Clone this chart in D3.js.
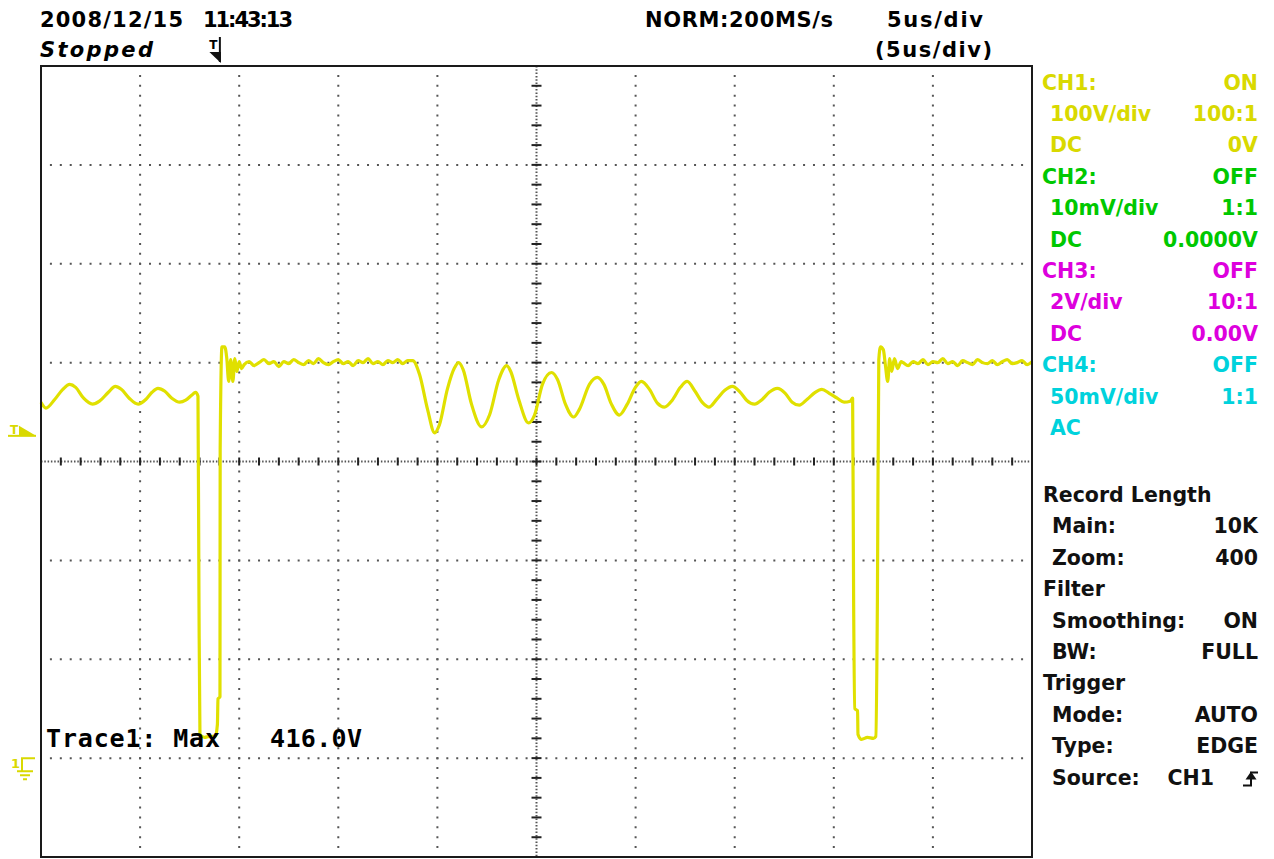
<!DOCTYPE html>
<html>
<head>
<meta charset="utf-8">
<script src="https://cdn.jsdelivr.net/npm/d3@7"></script>
<style>
  body { margin: 0; background: #fff; }
  svg { display: block; }
  text { font-family: 'DejaVu Sans', sans-serif; font-weight: bold; }
</style>
</head>
<body>
<div id="scope"></div>
<script>
// header / status
const dateStamp = '2008/12/15';
const timeStamp = '11:43:13';
const runState = 'Stopped';
const acqMode = 'NORM:200MS/s';
const timeBase = '5us/div';
const zoomBase = '(5us/div)';

// screen setup: 10 div x 5us, 8 div x 100V (ground 3 div under centre)
const timeDomain = [0, 50];
const voltDomain = [-100, 700];
const triggerTime = 9.05;
const triggerLevel = 330;
const traceLabel = 'Trace1: Max';
const traceMax = '416.0V';

// CH1 trace, [us, V]
const rippleBefore = [
  [0, 360], [0.25, 354], [0.7, 363], [1.1, 373], [1.45, 378], [1.75, 375],
  [2.15, 364], [2.6, 358], [2.95, 361], [3.4, 370], [3.75, 376], [4.05, 373],
  [4.45, 364], [4.9, 358], [5.3, 363], [5.6, 370], [5.9, 374], [6.25, 371],
  [6.6, 364], [7.0, 360], [7.3, 362], [7.6, 367], [7.8, 370], [7.92, 366]
];
const firstPulse = [
  [7.97, 160], [8.02, 24], [8.25, 21], [8.5, 22], [8.8, 22], [8.9, 34],
  [8.93, 60], [9.03, 62], [9.04, 312], [9.13, 416], [9.27, 416], [9.37, 405],
  [9.47, 381], [9.57, 403], [9.68, 381], [9.78, 404], [9.88, 391], [10.0, 401],
  [10.12, 394]
];
const flatHighA = [
  [10.25, 398], [10.5, 401], [10.75, 397], [11.0, 400], [11.25, 403], [11.5, 399],
  [11.75, 401], [12.0, 396], [12.25, 401], [12.5, 399], [12.75, 403], [13.0, 400],
  [13.25, 398], [13.5, 402], [13.75, 399], [14.0, 404], [14.25, 400], [14.5, 398],
  [14.75, 401], [15.0, 403], [15.25, 399], [15.5, 401], [15.75, 397], [16.0, 402],
  [16.25, 400], [16.5, 404], [16.75, 399], [17.0, 401], [17.25, 398], [17.5, 402],
  [17.75, 400], [18.0, 403], [18.25, 399], [18.5, 402]
];
const ringDown = [
  [18.75, 402], [19.1, 388], [19.5, 353], [19.86, 329], [20.1, 337], [20.5, 373],
  [20.87, 395], [21.07, 400], [21.3, 393], [21.72, 358], [22.23, 335], [22.63, 347],
  [23.1, 383], [23.5, 397], [23.7, 391], [24.1, 363], [24.6, 339], [24.9, 347],
  [25.3, 378], [25.76, 390], [26.06, 383], [26.46, 358], [26.87, 345], [27.17, 353],
  [27.67, 378], [28.07, 385], [28.4, 378], [28.78, 358], [29.18, 347], [29.58, 358],
  [29.99, 375], [30.29, 381], [30.7, 373], [31.1, 359], [31.45, 355], [31.85, 362],
  [32.26, 375], [32.6, 381], [33.0, 371], [33.4, 359], [33.7, 355], [34.1, 363],
  [34.5, 372], [34.88, 376], [35.28, 370], [35.6, 362], [36.0, 358], [36.4, 363],
  [36.74, 370], [37.15, 374], [37.55, 369], [37.9, 360], [38.26, 357], [38.66, 363],
  [39.06, 370], [39.4, 373], [39.77, 369], [40.17, 364], [40.52, 360], [40.83, 361],
  [40.95, 364]
];
const secondPulse = [
  [41.0, 160], [41.06, 50], [41.2, 48], [41.22, 24], [41.4, 19], [41.7, 21],
  [42.0, 20], [42.12, 22], [42.2, 160], [42.27, 403], [42.36, 416], [42.5, 413],
  [42.6, 398], [42.72, 381], [42.82, 404], [42.92, 391], [43.06, 404], [43.22, 394],
  [43.4, 401]
];
const flatHighB = [
  [43.5, 400], [43.75, 397], [44.0, 401], [44.25, 399], [44.5, 403], [44.75, 398],
  [45.0, 401], [45.25, 400], [45.5, 404], [45.75, 399], [46.0, 401], [46.25, 397],
  [46.5, 402], [46.75, 400], [47.0, 398], [47.25, 403], [47.5, 400], [47.75, 399],
  [48.0, 402], [48.25, 398], [48.5, 401], [48.75, 403], [49.0, 399], [49.25, 400],
  [49.5, 402], [49.75, 398], [50.0, 401]
];

// right side panel
const channelNames = ['CH1:', 'CH2:', 'CH3:', 'CH4:'];
const channelState = ['ON', 'OFF', 'OFF', 'OFF'];
const channelScale = ['100V/div', '10mV/div', '2V/div', '50mV/div'];
const channelProbe = ['100:1', '1:1', '10:1', '1:1'];
const channelCoupling = ['DC', 'DC', 'DC', 'AC'];
const channelOffset = ['0V', '0.0000V', '0.00V', ''];
const settingLabels = ['Record Length', 'Main:', 'Zoom:', 'Filter', 'Smoothing:', 'BW:', 'Trigger', 'Mode:', 'Type:', 'Source:'];
const settingValues = [null, '10K', '400', null, 'ON', 'FULL', null, 'AUTO', 'EDGE', 'CH1'];

const chColors = ['#d9d900', '#00c800', '#dd00dd', '#00d2dc'];
const traceColor = '#e0e000';
const dotColor = '#555';

const W = 1274, H = 859;
const frame = { left: 41, top: 66, right: 1032, bottom: 857 };

const svg = d3.select('#scope').append('svg')
  .attr('width', W).attr('height', H);

const x = d3.scaleLinear().domain(timeDomain).range([frame.left, frame.right]);
const y = d3.scaleLinear().domain(voltDomain).range([frame.bottom, frame.top]);

const divX = (x(5) - x(0));
const divY = (y(0) - y(100));

// graticule
const grid = svg.append('g');
grid.selectAll('.vgrid')
  .data(d3.range(5, 50, 5).filter(t => t !== 25))
  .join('line')
  .attr('x1', d => x(d)).attr('x2', d => x(d))
  .attr('y1', frame.top).attr('y2', frame.bottom)
  .attr('stroke', dotColor).attr('stroke-width', 2)
  .attr('stroke-dasharray', `2,${divY / 10 - 2}`)
  .attr('stroke-dashoffset', 1);
grid.selectAll('.hgrid')
  .data(d3.range(0, 700, 100).filter(v => v !== 300))
  .join('line')
  .attr('x1', frame.left).attr('x2', frame.right)
  .attr('y1', d => y(d)).attr('y2', d => y(d))
  .attr('stroke', dotColor).attr('stroke-width', 2)
  .attr('stroke-dasharray', `2,${divX / 10 - 2}`)
  .attr('stroke-dashoffset', 1);

// centre axes, dense dots + minor ticks every 0.2 div
grid.append('line')
  .attr('x1', x(25)).attr('x2', x(25))
  .attr('y1', frame.top).attr('y2', frame.bottom)
  .attr('stroke', dotColor).attr('stroke-width', 2)
  .attr('stroke-dasharray', '1.5,1.8');
grid.append('line')
  .attr('x1', frame.left).attr('x2', frame.right)
  .attr('y1', y(300)).attr('y2', y(300))
  .attr('stroke', dotColor).attr('stroke-width', 2)
  .attr('stroke-dasharray', '1.5,1.8');
grid.selectAll('.vtick')
  .data(d3.range(-80, 700, 20))
  .join('line')
  .attr('x1', x(25) - 5).attr('x2', x(25) + 5)
  .attr('y1', d => y(d)).attr('y2', d => y(d))
  .attr('stroke', '#222').attr('stroke-width', 2);
grid.selectAll('.htick')
  .data(d3.range(1, 50, 1))
  .join('line')
  .attr('x1', d => x(d)).attr('x2', d => x(d))
  .attr('y1', y(300) - 4).attr('y2', y(300) + 4)
  .attr('stroke', '#222').attr('stroke-width', 2);

// CH1 trace
const trace = [].concat(rippleBefore, firstPulse, flatHighA, ringDown, secondPulse, flatHighB);
const line = d3.line().curve(d3.curveMonotoneX).x(d => x(d[0])).y(d => y(d[1]));
svg.append('path')
  .datum(trace)
  .attr('d', line)
  .attr('fill', 'none')
  .attr('stroke', traceColor)
  .attr('stroke-width', 3.2)
  .attr('stroke-linejoin', 'round');

// frame
svg.append('rect')
  .attr('x', frame.left).attr('y', frame.top)
  .attr('width', frame.right - frame.left)
  .attr('height', frame.bottom - frame.top)
  .attr('fill', 'none').attr('stroke', '#1a1a1a').attr('stroke-width', 2);

// header
svg.append('text').attr('x', 40).attr('y', 27).attr('font-size', 21)
  .attr('textLength', 143).attr('lengthAdjust', 'spacing').text(dateStamp);
svg.append('text').attr('x', 203).attr('y', 27).attr('font-size', 21)
  .attr('textLength', 90).attr('lengthAdjust', 'spacing').text(timeStamp);
svg.append('text').attr('x', 40).attr('y', 57).attr('font-size', 21)
  .style('font-style', 'italic')
  .attr('textLength', 113).attr('lengthAdjust', 'spacing').text(runState);
svg.append('text').attr('x', 645).attr('y', 27).attr('font-size', 21)
  .attr('textLength', 188).attr('lengthAdjust', 'spacing').text(acqMode);
svg.append('text').attr('x', 887).attr('y', 27).attr('font-size', 21)
  .attr('textLength', 96).attr('lengthAdjust', 'spacing').text(timeBase);
svg.append('text').attr('x', 875).attr('y', 57).attr('font-size', 21)
  .attr('textLength', 117).attr('lengthAdjust', 'spacing').text(zoomBase);

// trigger position marker (top)
const tx = x(triggerTime);
svg.append('text').attr('x', tx - 11).attr('y', 49).attr('font-size', 12).text('T');
svg.append('line').attr('x1', tx - 0.5).attr('x2', tx - 0.5).attr('y1', 37).attr('y2', 62)
  .attr('stroke', '#111').attr('stroke-width', 2);
svg.append('path')
  .attr('d', `M${tx - 11},52 L${tx + 0.5},52 L${tx + 0.5},63 Z`)
  .attr('fill', '#111');

// trigger level marker (left)
const ty = y(triggerLevel);
svg.append('text').attr('x', 10).attr('y', ty + 2).attr('font-size', 12)
  .attr('fill', chColors[0]).text('T');
svg.append('path')
  .attr('d', `M19,${ty - 6} L36,${ty + 4} L19,${ty + 4} Z`)
  .attr('fill', chColors[0]);
svg.append('line').attr('x1', 8).attr('x2', 36).attr('y1', ty + 4).attr('y2', ty + 4)
  .attr('stroke', chColors[0]).attr('stroke-width', 2);

// ground marker (left)
const gy = y(0);
svg.append('text').attr('x', 11).attr('y', gy + 10).attr('font-size', 13)
  .attr('fill', chColors[0]).text('1');
svg.append('path')
  .attr('d', `M35,${gy} H22 V${gy + 13} M17,${gy + 13} H33 M20,${gy + 17} H30 M23,${gy + 21} H27`)
  .attr('fill', 'none').attr('stroke', chColors[0]).attr('stroke-width', 2);

// Trace1 readout
svg.append('text').attr('x', 46).attr('y', 747).attr('font-size', 25)
  .style('font-family', "'DejaVu Sans Mono', monospace")
  .attr('textLength', 174).attr('lengthAdjust', 'spacing').text(traceLabel);
svg.append('text').attr('x', 270).attr('y', 747).attr('font-size', 25)
  .style('font-family', "'DejaVu Sans Mono', monospace")
  .attr('textLength', 92).attr('lengthAdjust', 'spacing').text(traceMax);

// channel panel
const panelRight = 1258;
const rowStep = 31.4;
const chRows = [];
channelNames.forEach((name, i) => {
  chRows.push({ l: name, r: channelState[i], c: chColors[i], head: true });
  chRows.push({ l: channelScale[i], r: channelProbe[i], c: chColors[i] });
  chRows.push({ l: channelCoupling[i], r: channelOffset[i], c: chColors[i] });
});
const chG = svg.append('g').attr('font-size', 20.5);
chG.selectAll('.cl').data(chRows).join('text')
  .attr('x', d => d.head ? 1042 : 1050)
  .attr('y', (d, i) => 89.5 + i * rowStep)
  .attr('fill', d => d.c)
  .text(d => d.l);
chG.selectAll('.cr').data(chRows).join('text')
  .attr('x', panelRight)
  .attr('y', (d, i) => 89.5 + i * rowStep)
  .attr('text-anchor', 'end')
  .attr('fill', d => d.c)
  .text(d => d.r);

// settings panel
const setG = svg.append('g').attr('font-size', 20.5);
setG.selectAll('.sl').data(settingLabels).join('text')
  .attr('x', (d, i) => settingValues[i] === null ? 1043 : 1052)
  .attr('y', (d, i) => 502 + i * rowStep)
  .attr('fill', '#111')
  .text(d => d);
setG.selectAll('.sr').data(settingValues.filter(v => v !== null && v !== 'CH1')).join('text')
  .attr('x', panelRight)
  .attr('y', d => 502 + settingValues.indexOf(d) * rowStep)
  .attr('text-anchor', 'end')
  .attr('fill', '#111')
  .text(d => d);
const srcY = 502 + settingValues.indexOf('CH1') * rowStep;
setG.append('text').attr('x', 1214).attr('y', srcY)
  .attr('text-anchor', 'end').attr('fill', '#111').text('CH1');
// rising edge symbol
svg.append('path')
  .attr('d', `M1243,${srcY + 1} H1251 V${srcY - 12} H1258`)
  .attr('fill', 'none').attr('stroke', '#111').attr('stroke-width', 2);
svg.append('path')
  .attr('d', `M1245.5,${srcY - 5} L1251,${srcY - 13} L1256.5,${srcY - 5} Z`)
  .attr('fill', '#111');
</script>
</body>
</html>
